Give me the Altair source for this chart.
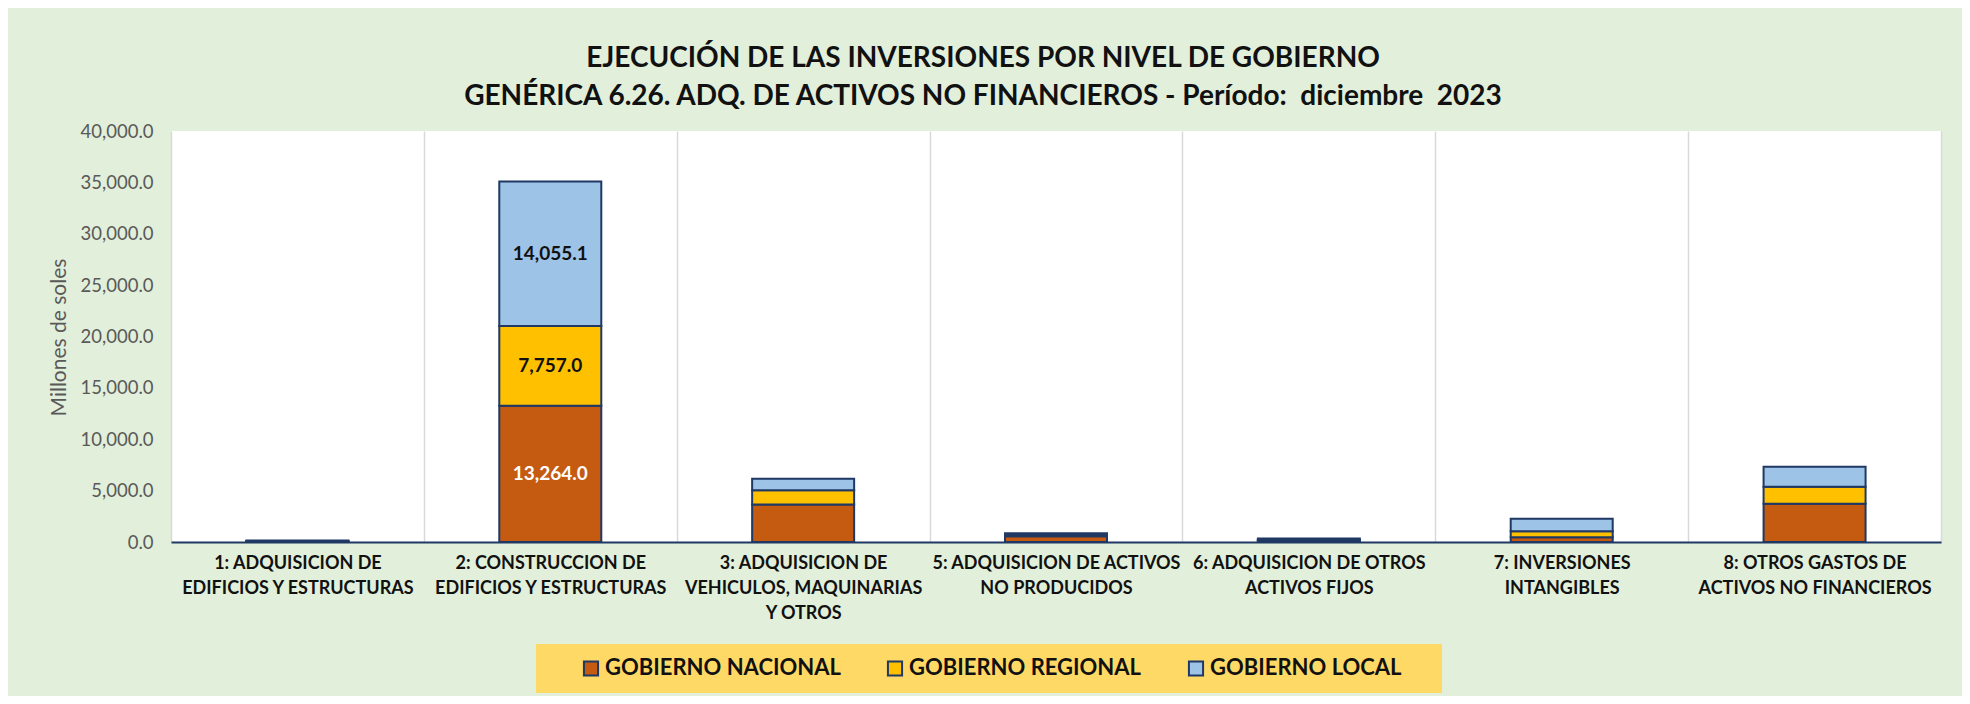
import altair as alt
import pandas as pd

categories = [
    "1: ADQUISICION DE|EDIFICIOS Y ESTRUCTURAS",
    "2: CONSTRUCCION DE|EDIFICIOS Y ESTRUCTURAS",
    "3: ADQUISICION DE|VEHICULOS, MAQUINARIAS|Y OTROS",
    "5: ADQUISICION DE ACTIVOS|NO PRODUCIDOS",
    "6: ADQUISICION DE OTROS|ACTIVOS FIJOS",
    "7: INVERSIONES|INTANGIBLES",
    "8: OTROS GASTOS DE|ACTIVOS NO FINANCIEROS",
]
nacional = [70, 13264.0, 3660, 570, 120, 470, 3730]
regional = [30, 7757.0, 1365, 100, 80, 585, 1655]
local = [50, 14055.1, 1140, 190, 130, 1210, 1950]

levels = ["GOBIERNO NACIONAL", "GOBIERNO REGIONAL", "GOBIERNO LOCAL"]
colors = ["#C55A11", "#FFC000", "#9DC3E6"]
y_ticks = [0, 5000, 10000, 15000, 20000, 25000, 30000, 35000, 40000]

title_lines = [
    "EJECUCIÓN DE LAS INVERSIONES POR NIVEL DE GOBIERNO",
    "GENÉRICA 6.26. ADQ. DE ACTIVOS NO FINANCIEROS - Período:\u00a0 diciembre\u00a0 2023",
]

rows = []
for series_idx, (lvl, vals) in enumerate(zip(levels, [nacional, regional, local])):
    for c, v in zip(categories, vals):
        rows.append({"cat": c, "level": lvl, "value": v, "order": series_idx})
df = pd.DataFrame(rows)

NAVY = "#1F3864"
FONT = "Lato"

base = alt.Chart(df)

bars = base.mark_bar(size=102, stroke=NAVY, strokeWidth=2).encode(
    x=alt.X(
        "cat:N",
        sort=categories,
        scale=alt.Scale(paddingInner=0, paddingOuter=0),
        axis=alt.Axis(
            title=None,
            labelExpr="split(datum.label, '|')",
            labelAngle=0,
            labelFont=FONT,
            labelFontWeight="bold",
            labelFontSize=18,
            labelColor="#111111",
            labelLimit=400,
            labelPadding=12,
            labelLineHeight=25,
            labelBaseline="top",
            labelOverlap=False,
            tickBand="extent",
            grid=True,
            gridColor="#D9D9D9",
            gridWidth=1.5,
            ticks=False,
            domainColor=NAVY,
            domainWidth=2,
        ),
    ),
    y=alt.Y(
        "value:Q",
        stack="zero",
        scale=alt.Scale(domain=[0, 40000], nice=False),
        axis=alt.Axis(
            values=y_ticks,
            format=",.1f",
            grid=False,
            ticks=False,
            domain=False,
            labelFont=FONT,
            labelFontSize=18.5,
            labelColor="#595959",
            labelPadding=18,
            title="Millones de soles",
            titleFont=FONT,
            titleFontWeight="normal",
            titleFontSize=21,
            titleColor="#595959",
            titleAngle=270,
            titleAlign="center",
            titleBaseline="middle",
            titleX=-112,
            titleY=206,
        ),
    ),
    color=alt.Color(
        "level:N",
        scale=alt.Scale(domain=levels, range=colors),
        legend=alt.Legend(
            title=" ",
            titleOrient="right",
            titlePadding=27,
            titleFontSize=8,
            orient="none",
            legendX=365,
            legendY=513,
            direction="horizontal",
            columns=3,
            fillColor="#FFD966",
            padding=13,
            symbolType="square",
            symbolSize=200,
            symbolStrokeColor=NAVY,
            symbolStrokeWidth=2,
            symbolOffset=31,
            labelFont=FONT,
            labelFontWeight="bold",
            labelFontSize=22,
            labelColor="#111111",
            labelOffset=3,
            columnPadding=12,
            labelLimit=400,
        ),
    ),
    order=alt.Order("order:Q"),
)

labels = (
    base.transform_stack(
        stack="value", groupby=["cat"], sort=[alt.SortField("order")], as_=["y0", "y1"]
    )
    .transform_calculate(mid="(datum.y0 + datum.y1) / 2")
    .transform_filter("datum.value > 5000")
    .mark_text(font=FONT, fontWeight="bold", fontSize=19)
    .encode(
        x=alt.X("cat:N", sort=categories),
        y=alt.Y("mid:Q"),
        text=alt.Text("value:Q", format=",.1f"),
        color=alt.condition(
            "datum.level == 'GOBIERNO NACIONAL'", alt.value("white"), alt.value("#111111")
        ),
    )
)

chart = (
    alt.layer(bars, labels)
    .properties(
        width=1770,
        height=411,
        autosize=alt.AutoSizeParams(type="none"),
        padding={"left": 163, "top": 123, "right": 21, "bottom": 154},
        title=alt.TitleParams(
            text=title_lines,
            anchor="middle",
            frame="group",
            dx=-73,
            font=FONT,
            fontSize=28,
            fontWeight="bold",
            color="#111111",
            lineHeight=38,
            offset=11,
        ),
    )
    .configure(background="#E2EFDA")
    .configure_view(fill="white", stroke=None)
)

chart.save("out.html", embed_options={"renderer": "svg", "actions": False})
